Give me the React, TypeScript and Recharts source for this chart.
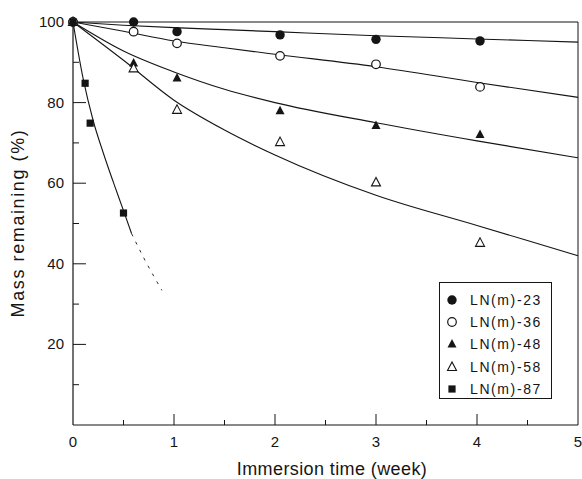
import React from 'react';
import { ComposedChart, Line, Scatter, XAxis, YAxis, ReferenceLine } from 'recharts';

// measured points (weeks, % mass remaining)
const pointWeeks = [0, 0.6, 1.03, 2.05, 3.0, 4.03];
const ln23Points = [100, 100, 97.6, 96.8, 95.7, 95.3];
const ln36Points = [100, 97.6, 94.7, 91.6, 89.5, 83.9];
const ln48Points = [100, 89.8, 86.1, 78.0, 74.3, 72.1];
const ln58Points = [100, 88.5, 78.2, 70.2, 60.2, 45.2];
const ln87Weeks = [0, 0.12, 0.17, 0.5];
const ln87Points = [100, 84.8, 74.9, 52.6];

// fitted curves
const fitWeeks = [0, 0.5, 1, 1.5, 2, 3, 4, 5];
const fit23 = [100, 99.2, 98.6, 98.1, 97.6, 96.6, 95.8, 95.0];
const fit36 = [100, 97.7, 95.3, 93.6, 92.0, 88.9, 85.0, 81.3];
const fit48 = [100, 92.8, 87.6, 83.3, 80.0, 75.0, 70.5, 66.3];
const fit58 = [100, 90.5, 80.6, 73.2, 67.0, 57.0, 49.5, 42.0];
const fit87Weeks = [0, 0.1, 0.2, 0.3, 0.4, 0.5, 0.58];
const fit87 = [100, 86, 75.5, 67.5, 60.2, 53.2, 47.5];
const extra87Weeks = [0.58, 0.7, 0.88];
const extra87 = [47.5, 41.5, 33.4];

const seriesNames = ['LN(m)-23', 'LN(m)-36', 'LN(m)-48', 'LN(m)-58', 'LN(m)-87'];
const xTicks = [0, 0.5, 1, 1.5, 2, 2.5, 3, 3.5, 4, 4.5, 5];
const yTicks = [10, 20, 30, 40, 50, 60, 70, 80, 90, 100];
const xLabels = [0, 1, 2, 3, 4, 5];
const yLabels = [20, 40, 60, 80, 100];

const zip = (xs: number[], ys: number[]) => xs.map((x, i) => ({ x, y: ys[i] }));

const FONT = '"Liberation Sans", Arial, sans-serif';
const INK = '#151515';

type Kind = 'dot' | 'ring' | 'tri' | 'otri' | 'sq';
const kinds: Kind[] = ['dot', 'ring', 'tri', 'otri', 'sq'];

function Marker({ cx, cy, kind }: { cx: number; cy: number; kind: Kind }) {
  if (kind === 'dot') return <circle cx={cx} cy={cy} r={4.7} fill={INK} />;
  if (kind === 'ring') return <circle cx={cx} cy={cy} r={4.3} fill="#fff" stroke={INK} strokeWidth={1.2} />;
  if (kind === 'sq') return <rect x={cx - 3.6} y={cy - 3.6} width={7.2} height={7.2} fill={INK} />;
  const pts = `${cx},${cy - 5} ${cx - 4.5},${cy + 3.5} ${cx + 4.5},${cy + 3.5}`;
  if (kind === 'tri') return <polygon points={pts} fill={INK} />;
  return <polygon points={pts} fill="#fff" stroke={INK} strokeWidth={1.1} />;
}

const shapeFor = (kind: Kind) => (p: any) => <Marker cx={p.cx} cy={p.cy} kind={kind} />;

function XTick(props: any) {
  const { x, y, payload } = props;
  const v = payload.value;
  const isLabel = xLabels.includes(v);
  const len = v === 0 || v === 5 ? 0 : isLabel ? 11 : 5;
  return (
    <g>
      {len > 0 && <line x1={x} x2={x} y1={y} y2={y - len} stroke={INK} strokeWidth={1} />}
      {isLabel && (
        <text x={x} y={y + 22} textAnchor="middle" fontSize={15} fontFamily={FONT} fill={INK}>
          {v}
        </text>
      )}
    </g>
  );
}

function YTick(props: any) {
  const { x, y, payload } = props;
  const v = payload.value;
  const isLabel = yLabels.includes(v);
  return (
    <g>
      {v !== 100 && <line x1={x} x2={x + (isLabel ? 13 : 6)} y1={y} y2={y} stroke={INK} strokeWidth={1} />}
      {isLabel && (
        <text x={x - 9} y={y + 5} textAnchor="end" fontSize={15} fontFamily={FONT} fill={INK}>
          {v}
        </text>
      )}
    </g>
  );
}

const xTitle = () => (
  <text x={332} y={475} textAnchor="middle" fontSize={18} letterSpacing={0.4} fontFamily={FONT} fill={INK}>
    Immersion time (week)
  </text>
);

const yTitle = () => (
  <text
    x={18}
    y={223}
    transform="rotate(-90, 18, 223)"
    textAnchor="middle"
    dominantBaseline="central"
    fontSize={18}
    letterSpacing={1.6}
    fontFamily={FONT}
    fill={INK}
  >
    Mass remaining (%)
  </text>
);

function LegendBox() {
  return (
    <div
      style={{
        position: 'absolute',
        left: 439,
        top: 282,
        width: 113,
        height: 117,
        border: `1px solid ${INK}`,
        background: '#fff',
        boxSizing: 'border-box',
        fontFamily: FONT,
        fontSize: 14,
        letterSpacing: 1.6,
        color: INK,
      }}
    >
      {seriesNames.map((name, i) => (
        <div key={name} style={{ position: 'absolute', left: 0, top: 6 + i * 22.2, height: 22, display: 'flex', alignItems: 'center' }}>
          <svg width={24} height={22} style={{ display: 'block' }}>
            <Marker cx={12} cy={11} kind={kinds[i]} />
          </svg>
          <span style={{ marginLeft: 6, whiteSpace: 'nowrap' }}>{name}</span>
        </div>
      ))}
    </div>
  );
}

export default function App() {
  const pointSets = [ln23Points, ln36Points, ln48Points, ln58Points];
  const fits = [fit23, fit36, fit48, fit58];
  return (
    <div style={{ position: 'absolute', left: 0, top: 0, width: 582, height: 479, background: '#fff' }}>
      <ComposedChart width={582} height={479} margin={{ top: 22, right: 4, bottom: 0, left: 0 }}>
        <XAxis
          dataKey="x"
          type="number"
          domain={[0, 5]}
          ticks={xTicks}
          interval={0}
          tickSize={0}
          tickMargin={0}
          tickLine={false}
          axisLine={{ stroke: INK, strokeWidth: 1.2 }}
          tick={<XTick />}
          height={54}
          label={xTitle}
        />
        <YAxis
          dataKey="y"
          type="number"
          domain={[0, 100]}
          ticks={yTicks}
          interval={0}
          tickSize={0}
          tickMargin={0}
          tickLine={false}
          axisLine={{ stroke: INK, strokeWidth: 1.2 }}
          tick={<YTick />}
          width={73}
          label={yTitle}
        />
        <ReferenceLine y={100} stroke={INK} strokeWidth={1} />
        <ReferenceLine x={5} stroke={INK} strokeWidth={1} />
        {fits.map((f, i) => (
          <Line
            key={`fit${i}`}
            data={zip(fitWeeks, f)}
            dataKey="y"
            type="monotone"
            stroke={INK}
            strokeWidth={1.1}
            dot={false}
            activeDot={false}
            isAnimationActive={false}
          />
        ))}
        <Line
          data={zip(fit87Weeks, fit87)}
          dataKey="y"
          type="monotone"
          stroke={INK}
          strokeWidth={1.1}
          dot={false}
          activeDot={false}
          isAnimationActive={false}
        />
        <Line
          data={zip(extra87Weeks, extra87)}
          dataKey="y"
          type="monotone"
          stroke={INK}
          strokeWidth={0.9}
          strokeDasharray="3 6"
          dot={false}
          activeDot={false}
          isAnimationActive={false}
        />
        {pointSets.map((p, i) => (
          <Scatter
            key={`pts${i}`}
            name={seriesNames[i]}
            data={zip(pointWeeks, p)}
            dataKey="y"
            shape={shapeFor(kinds[i])}
            isAnimationActive={false}
          />
        ))}
        <Scatter
          name={seriesNames[4]}
          data={zip(ln87Weeks, ln87Points)}
          dataKey="y"
          shape={shapeFor('sq')}
          isAnimationActive={false}
        />
      </ComposedChart>
      <LegendBox />
    </div>
  );
}
